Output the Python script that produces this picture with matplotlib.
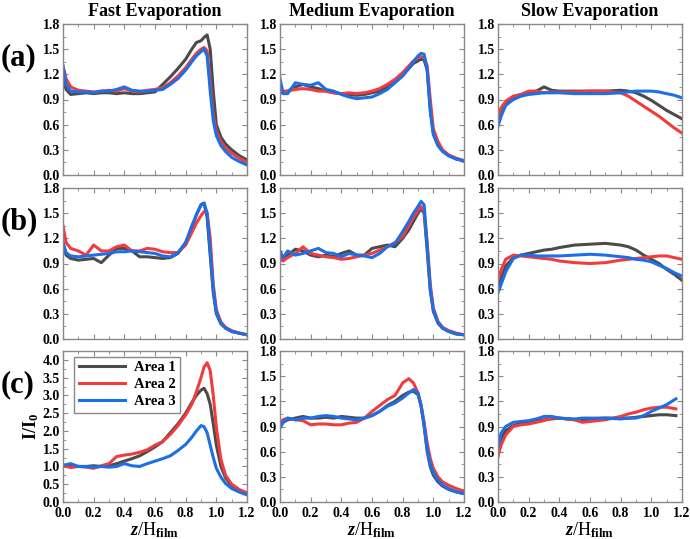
import matplotlib
matplotlib.use("Agg")
import matplotlib.pyplot as plt
from matplotlib.ticker import MultipleLocator

plt.rcParams['font.family'] = ['Liberation Serif', 'DejaVu Serif']
plt.rcParams['font.weight'] = 'bold'
plt.rcParams['mathtext.fontset'] = 'custom'
plt.rcParams['mathtext.rm'] = 'Liberation Serif:bold'
plt.rcParams['mathtext.it'] = 'Liberation Serif:bold:italic'
plt.rcParams['mathtext.bf'] = 'Liberation Serif:bold'

# x grids (z/H_film)
x_peak = [0, 0.02, 0.05, 0.1, 0.15, 0.2, 0.25, 0.3, 0.35, 0.4, 0.45, 0.5, 0.55, 0.6, 0.65, 0.7,
          0.75, 0.8, 0.84, 0.87, 0.9, 0.92, 0.94, 0.96, 0.98, 1.0, 1.03, 1.06, 1.1, 1.15, 1.2]
x_slow = [0, 0.02, 0.05, 0.1, 0.15, 0.2, 0.25, 0.3, 0.35, 0.4, 0.5, 0.6, 0.7, 0.8, 0.85, 0.9,
          0.95, 1.0, 1.05, 1.1, 1.15, 1.2]
x_slow_c = [0, 0.02, 0.05, 0.1, 0.15, 0.2, 0.25, 0.3, 0.35, 0.4, 0.5, 0.55, 0.6, 0.7, 0.8, 0.85,
            0.9, 0.95, 1.0, 1.05, 1.1, 1.16]

# row (a)
fast_a1 = [1.15, 1.02, 0.96, 0.97, 0.98, 0.97, 0.98, 0.98, 0.97, 0.98, 0.97, 0.97, 0.98, 0.99, 1.08, 1.17,
           1.27, 1.38, 1.5, 1.58, 1.6, 1.64, 1.67, 1.5, 1.0, 0.6, 0.45, 0.37, 0.3, 0.23, 0.18]
fast_a2 = [1.3, 1.15, 1.05, 1.01, 1.0, 0.99, 1.0, 1.01, 1.0, 1.03, 1.0, 0.99, 1.01, 1.02, 1.04, 1.1,
           1.18, 1.28, 1.38, 1.45, 1.5, 1.52, 1.48, 1.1, 0.72, 0.52, 0.4, 0.32, 0.26, 0.2, 0.15]
fast_a3 = [1.3, 1.08, 1.0, 0.99, 0.99, 0.98, 1.0, 1.0, 1.02, 1.05, 1.01, 1.0, 1.0, 1.01, 1.02, 1.08,
           1.15, 1.25, 1.35, 1.42, 1.47, 1.5, 1.42, 1.0, 0.65, 0.47, 0.35, 0.28, 0.21, 0.16, 0.12]
med_a1 = [1.0, 0.98, 1.0, 1.05, 1.08, 1.05, 1.03, 1.0, 0.98, 0.97, 0.96, 0.95, 0.96, 0.98, 1.0, 1.05,
          1.12, 1.2, 1.27, 1.33, 1.36, 1.38, 1.37, 1.25, 0.8, 0.5, 0.36, 0.29, 0.23, 0.19, 0.17]
med_a2 = [0.97, 1.0, 1.0, 1.02, 1.03, 1.02, 1.0, 1.0, 0.98, 0.97, 0.98, 0.97, 0.98, 1.0, 1.03, 1.08,
          1.14, 1.22, 1.3, 1.36, 1.4, 1.41, 1.4, 1.3, 0.9, 0.55, 0.4, 0.3, 0.24, 0.2, 0.17]
med_a3 = [1.15, 0.97, 0.97, 1.1, 1.08, 1.07, 1.1, 1.02, 1.0, 0.96, 0.93, 0.91, 0.92, 0.93, 0.97, 1.02,
          1.1, 1.18, 1.27, 1.35, 1.42, 1.45, 1.44, 1.25, 0.75, 0.48, 0.35, 0.28, 0.23, 0.19, 0.17]
slow_a1 = [0.65, 0.75, 0.85, 0.93, 0.96, 0.98, 1.0, 1.05, 1.01, 1.0, 1.0, 1.0, 1.0, 1.01, 1.0, 0.98,
           0.94, 0.89, 0.83, 0.77, 0.72, 0.67]
slow_a2 = [0.7, 0.8, 0.88, 0.94, 0.96, 1.0, 1.0, 0.98, 0.99, 0.99, 0.99, 1.0, 1.0, 0.98, 0.94, 0.88,
           0.82, 0.76, 0.7, 0.63, 0.56, 0.5]
slow_a3 = [0.58, 0.7, 0.83, 0.9, 0.94, 0.96, 0.97, 0.98, 0.98, 0.98, 0.97, 0.97, 0.97, 0.98, 0.99, 1.0,
           1.0, 1.0, 0.99, 0.97, 0.95, 0.92]

# row (b)
fast_b1 = [1.15, 1.0, 0.96, 0.94, 0.95, 0.96, 0.91, 1.0, 1.08, 1.08, 1.05, 0.98, 0.98, 0.97, 0.96, 0.97,
           1.02, 1.15, 1.32, 1.48, 1.6, 1.62, 1.45, 1.0, 0.55, 0.3, 0.18, 0.13, 0.09, 0.07, 0.05]
fast_b2 = [1.35, 1.15, 1.08, 1.05, 1.0, 1.12, 1.05, 1.05, 1.1, 1.12, 1.05, 1.05, 1.08, 1.07, 1.04, 1.03,
           1.03, 1.12, 1.27, 1.38, 1.47, 1.52, 1.5, 1.2, 0.65, 0.35, 0.2, 0.14, 0.1, 0.07, 0.05]
fast_b3 = [1.15, 1.03, 0.99, 0.98, 0.99, 1.0, 1.01, 1.02, 1.04, 1.04, 1.05, 1.04, 1.03, 1.02, 0.99, 0.98,
           1.03, 1.15, 1.35, 1.48, 1.6, 1.62, 1.5, 1.05, 0.6, 0.32, 0.19, 0.13, 0.09, 0.07, 0.05]
med_b1 = [1.05, 0.96, 1.0, 1.07, 1.05, 1.0, 0.98, 1.0, 0.98, 1.02, 1.05, 1.0, 1.0, 1.08, 1.1, 1.12,
          1.1, 1.2, 1.3, 1.4, 1.5, 1.55, 1.5, 1.05, 0.58, 0.33, 0.19, 0.13, 0.09, 0.06, 0.05]
med_b2 = [0.95, 0.93, 0.97, 1.02, 1.1, 1.02, 1.0, 0.98, 0.97, 0.95, 0.96, 0.98, 1.0, 1.02, 1.06, 1.1,
          1.15, 1.22, 1.35, 1.45, 1.53, 1.58, 1.52, 1.15, 0.65, 0.37, 0.21, 0.14, 0.1, 0.07, 0.05]
med_b3 = [1.02, 0.97, 1.05, 1.0, 1.02, 1.05, 1.08, 1.03, 1.02, 0.98, 1.02, 1.0, 0.99, 0.97, 1.02, 1.1,
          1.14, 1.28, 1.4, 1.5, 1.58, 1.64, 1.6, 1.1, 0.6, 0.35, 0.2, 0.13, 0.09, 0.06, 0.05]
slow_b1 = [0.6, 0.72, 0.87, 0.97, 1.0, 1.02, 1.04, 1.06, 1.07, 1.09, 1.12, 1.13, 1.14, 1.12, 1.1, 1.06,
           1.0, 0.95, 0.9, 0.83, 0.77, 0.7]
slow_b2 = [0.7, 0.82, 0.95, 1.0, 0.99, 0.98, 0.97, 0.96, 0.95, 0.93, 0.91, 0.9, 0.91, 0.94, 0.95, 0.96,
           0.97, 0.98, 0.99, 0.99, 0.97, 0.95]
slow_b3 = [0.55, 0.65, 0.8, 0.96, 1.0, 1.0, 0.99, 0.99, 0.99, 0.99, 1.0, 1.01, 1.0, 0.98, 0.97, 0.95,
           0.94, 0.92, 0.88, 0.84, 0.79, 0.75]

# row (c)
fast_c1 = [1.0, 1.03, 1.03, 1.0, 1.0, 1.02, 1.0, 1.02, 1.08, 1.15, 1.22, 1.3, 1.42, 1.55, 1.7, 1.95,
           2.2, 2.5, 2.8, 3.0, 3.15, 3.2, 3.05, 2.75, 2.2, 1.6, 1.0, 0.68, 0.45, 0.32, 0.24]
fast_c2 = [1.05, 1.0, 0.97, 1.0, 0.98, 0.95, 1.02, 1.08, 1.28, 1.32, 1.35, 1.4, 1.47, 1.6, 1.7, 1.9,
           2.15, 2.45, 2.75, 3.1, 3.5, 3.8, 3.92, 3.7, 3.0, 2.1, 1.2, 0.75, 0.5, 0.35, 0.26]
fast_c3 = [1.03, 1.05, 1.08, 1.0, 1.0, 0.98, 1.0, 0.98, 1.0, 1.08, 1.02, 1.0, 1.08, 1.15, 1.22, 1.3,
           1.45, 1.62, 1.82, 2.0, 2.15, 2.12, 1.95, 1.6, 1.25, 0.95, 0.7, 0.52, 0.38, 0.28, 0.2]
med_c1 = [0.9, 0.95, 0.98, 1.0, 1.02, 1.0, 1.0, 1.01, 1.0, 1.02, 1.01, 1.0, 1.0, 1.03, 1.08, 1.15,
          1.2, 1.27, 1.31, 1.32, 1.28, 1.15, 0.9, 0.6, 0.42, 0.32, 0.24, 0.19, 0.15, 0.12, 0.1]
med_c2 = [0.95, 0.98, 1.0, 0.98, 0.97, 0.92, 0.93, 0.93, 0.92, 0.92, 0.94, 0.95, 1.0, 1.08, 1.15, 1.22,
          1.27, 1.42, 1.47, 1.42, 1.3, 1.15, 0.95, 0.7, 0.52, 0.4, 0.3, 0.24, 0.2, 0.16, 0.13]
med_c3 = [0.88, 0.95, 1.0, 0.98, 1.0, 1.0, 1.02, 1.03, 1.02, 1.0, 0.99, 0.98, 1.0, 1.03, 1.08, 1.14,
          1.18, 1.24, 1.3, 1.34, 1.3, 1.15, 0.92, 0.63, 0.45, 0.35, 0.26, 0.2, 0.16, 0.12, 0.1]
slow_c1 = [0.55, 0.75, 0.85, 0.91, 0.94, 0.95, 0.97, 0.98, 0.99, 1.0, 0.98, 0.98, 0.99, 1.0, 1.0, 1.0,
           1.01, 1.02, 1.03, 1.04, 1.04, 1.03]
slow_c2 = [0.55, 0.68, 0.8, 0.9, 0.92, 0.93, 0.95, 0.97, 1.0, 1.0, 0.98, 0.95, 0.96, 0.98, 1.02, 1.05,
           1.07, 1.1, 1.12, 1.13, 1.13, 1.11]
slow_c3 = [0.65, 0.82, 0.9, 0.95, 0.96, 0.97, 0.99, 1.02, 1.02, 1.0, 0.99, 1.0, 1.0, 1.0, 0.99, 1.0,
           1.0, 1.03, 1.08, 1.12, 1.16, 1.23]

titles = ["Fast Evaporation", "Medium Evaporation", "Slow Evaporation"]
row_labels = ["(a)", "(b)", "(c)"]
labels = ["Area 1", "Area 2", "Area 3"]
colors = ["#4b4b4b", "#f23c3c", "#1c6fe6"]

panels = [
    [(x_peak, fast_a1, fast_a2, fast_a3), (x_peak, med_a1, med_a2, med_a3), (x_slow, slow_a1, slow_a2, slow_a3)],
    [(x_peak, fast_b1, fast_b2, fast_b3), (x_peak, med_b1, med_b2, med_b3), (x_slow, slow_b1, slow_b2, slow_b3)],
    [(x_peak, fast_c1, fast_c2, fast_c3), (x_peak, med_c1, med_c2, med_c3), (x_slow_c, slow_c1, slow_c2, slow_c3)],
]

fig = plt.figure(figsize=(6.9, 5.39), dpi=100)
W, H = 690, 539
lefts = [63, 280, 498]
tops = [24, 188, 351]
aw, ah = 184, 151

for r in range(3):
    for c in range(3):
        ax = fig.add_axes([lefts[c] / W, 1 - (tops[r] + ah) / H, aw / W, ah / H])
        xs, y1, y2, y3 = panels[r][c]
        for ys, col, lab in zip((y1, y2, y3), colors, labels):
            ax.plot(xs, ys, color=col, lw=2.2, label=lab)
        ax.set_xlim(0, 1.2)
        ax.xaxis.set_major_locator(MultipleLocator(0.2))
        ax.xaxis.set_minor_locator(MultipleLocator(0.1))
        if r == 2 and c == 0:
            ax.set_ylim(0, 4.25)
            ax.yaxis.set_major_locator(MultipleLocator(0.5))
            ax.yaxis.set_minor_locator(MultipleLocator(0.25))
            ax.set_ylabel(r"I/I$_\mathbf{0}$", fontsize=13, fontweight='bold', labelpad=1)
            ax.legend(loc='upper left', fontsize=10.5, handlelength=3.2, frameon=True, fancybox=False,
                      edgecolor='#888888', borderpad=0.3, labelspacing=0.25, handletextpad=0.6,
                      borderaxespad=0.4, framealpha=1, bbox_to_anchor=(0.03, 1.0))
        else:
            ax.set_ylim(0, 1.8)
            ax.yaxis.set_major_locator(MultipleLocator(0.3))
            ax.yaxis.set_minor_locator(MultipleLocator(0.15))
        ax.yaxis.set_major_formatter(matplotlib.ticker.FormatStrFormatter('%.1f'))
        ax.xaxis.set_major_formatter(matplotlib.ticker.FormatStrFormatter('%.1f'))
        ax.tick_params(which='both', direction='in', top=True, right=True, color='#888888')
        ax.tick_params(which='major', length=3.5, width=0.8, labelsize=10, pad=2)
        ax.tick_params(axis='x', which='major', pad=3.5)
        ax.tick_params(which='minor', length=2, width=0.6)
        for s in ax.spines.values():
            s.set_color('#888888')
            s.set_linewidth(1.0)
        for t in ax.get_xticklabels() + ax.get_yticklabels():
            t.set_fontweight('bold')
        if r < 2:
            ax.tick_params(labelbottom=False)
        else:
            ax.set_xlabel(r"$\mathit{z}$/H$_\mathbf{film}$", fontsize=13, labelpad=0)
        if r == 0:
            ax.set_title(titles[c], fontsize=13, fontweight='bold', pad=6)
        if c == 0:
            fig.text(1 / W, 1 - (tops[r] + 34) / H, row_labels[r], fontsize=22, fontweight='bold',
                     ha='left', va='center')

fig.savefig("out.png", dpi=100)
